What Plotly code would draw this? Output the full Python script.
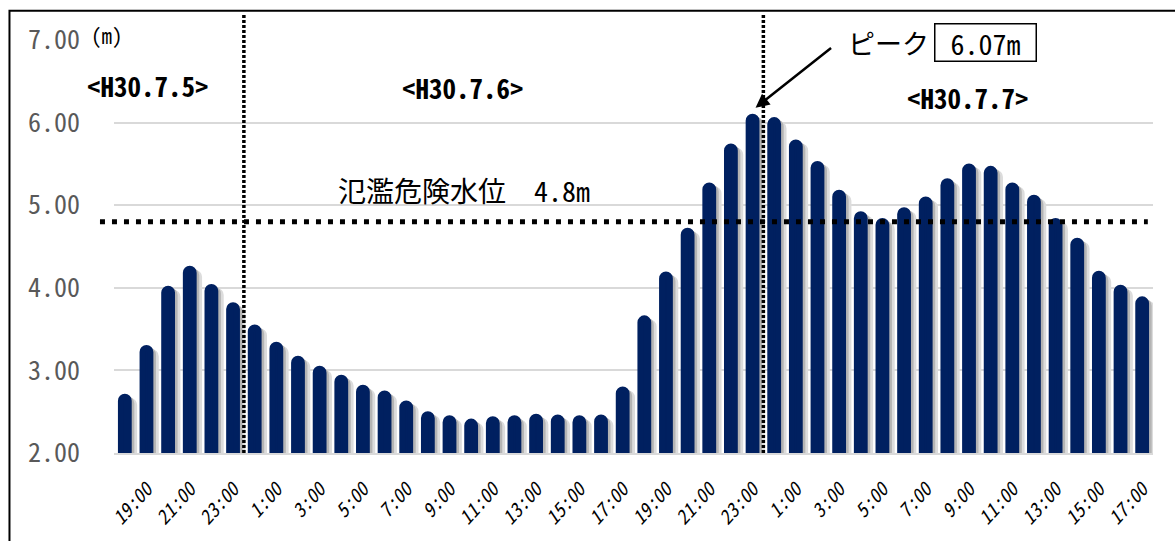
import numpy as np
import pandas as pd
import plotly.graph_objects as go

# Hourly water level (m), 2018-07-05 18:00 to 2018-07-07 17:00
times = pd.date_range("2018-07-05 18:00", periods=48, freq="h")
categories = [t.strftime("%m/%d %H:%M") for t in times]
levels = [
    2.68, 3.27, 3.99, 4.23, 4.01, 3.79,                     # 7/5 18:00-23:00
    3.52, 3.31, 3.14, 3.02, 2.91, 2.79, 2.72, 2.60,         # 7/6 0:00-7:00
    2.47, 2.42, 2.38, 2.41, 2.42, 2.44, 2.43, 2.42,         # 7/6 8:00-15:00
    2.43, 2.77, 3.63, 4.16, 4.69, 5.24, 5.71, 6.07,         # 7/6 16:00-23:00
    6.03, 5.76, 5.50, 5.15, 4.89, 4.81, 4.94, 5.07,         # 7/7 0:00-7:00
    5.29, 5.47, 5.44, 5.24, 5.09, 4.81, 4.57, 4.17,         # 7/7 8:00-15:00
    4.00, 3.86,                                             # 7/7 16:00-17:00
]
tick_values = categories[1::2]
tick_text = ["19:00", "21:00", "23:00",
             "1:00", "3:00", "5:00", "7:00", "9:00", "11:00", "13:00", "15:00",
             "17:00", "19:00", "21:00", "23:00",
             "1:00", "3:00", "5:00", "7:00", "9:00", "11:00", "13:00", "15:00", "17:00"]
day_labels = ["<H30.7.5>", "<H30.7.6>", "<H30.7.7>"]
danger_level = 4.8
peak_value = 6.07
peak_index = int(np.argmax(levels))
day_boundaries = [5.5, 29.5]

NAVY = "#002060"
MONO = "Noto Sans Mono CJK JP, Noto Sans CJK JP, sans-serif"
CJK = "Noto Sans CJK JP, sans-serif"

bar_w = 0.36
lv = np.array(levels)

fig = go.Figure()
# soft drop shadow behind each bar
fig.add_trace(go.Bar(
    x=categories, y=lv - 0.05, width=bar_w, offset=-bar_w / 2 + 0.25,
    marker=dict(color="#dcdcdc", line=dict(color="#dcdcdc", width=6), cornerradius="50%"),
    hoverinfo="skip"))
fig.add_trace(go.Bar(
    x=categories, y=lv - 0.03, width=bar_w, offset=-bar_w / 2 + 0.12,
    marker=dict(color="#b4b4b4", line=dict(color="#b4b4b4", width=6), cornerradius="50%"),
    hoverinfo="skip"))
# water level bars
fig.add_trace(go.Bar(
    x=categories, y=lv, width=bar_w, offset=-bar_w / 2,
    marker=dict(color=NAVY, line=dict(color=NAVY, width=6), cornerradius="50%"),
    name="水位"))

shapes = [
    # outer frame
    dict(type="rect", xref="paper", yref="paper", x0=-0.1006, x1=1.2, y0=-0.4, y1=1.0707,
         line=dict(color="black", width=2), fillcolor="rgba(0,0,0,0)", layer="below"),
    # flood danger level
    dict(type="line", xref="paper", yref="y", x0=-0.0135, x1=0.995, y0=danger_level, y1=danger_level,
         line=dict(color="black", width=5, dash="5px,7px")),
]
for xb in day_boundaries:
    shapes.append(dict(type="line", xref="x", yref="paper", x0=xb, x1=xb, y0=0, y1=1.065,
                       line=dict(color="black", width=3.5, dash="3px,2px")))


def label(text, x, y, size, family=MONO, bold=False, **kw):
    font = dict(family=family, size=size, color="black")
    if bold:
        font["weight"] = "bold"
    return dict(text=text, xref="paper", yref="paper", x=x, y=y, showarrow=False,
                xanchor="center", yanchor="middle", font=font, **kw)


annotations = [
    label("(m)", -0.0067, 1.012, 21),
    label(day_labels[0], 0.0327, 0.8897, 27, bold=True),
    label(day_labels[1], 0.3359, 0.8849, 27, bold=True),
    label(day_labels[2], 0.8219, 0.8609, 27, bold=True),
    label(f"氾濫危険水位　{danger_level}m", 0.3369, 0.6379, 28),
    label("ピーク", 0.7459, 0.9928, 27, family=CJK),
    label(f"{peak_value:.2f}m", 0.8388, 0.9928, 28, width=98, height=34, borderpad=1,
          bordercolor="black", borderwidth=1.5, bgcolor="white"),
    dict(text="", x=categories[peak_index], y=peak_value + 0.11, xref="x", yref="y",
         xshift=3, ax=77, ay=-61, showarrow=True, arrowhead=2, arrowsize=1.1,
         arrowwidth=2.5, arrowcolor="black", standoff=0),
]

fig.update_layout(
    width=1175, height=541,
    margin=dict(l=114, r=22, t=40, b=84),
    plot_bgcolor="white", paper_bgcolor="white",
    barmode="overlay", showlegend=False,
    shapes=shapes, annotations=annotations,
    xaxis=dict(
        type="category", categoryorder="array", categoryarray=categories,
        range=[-0.5, 47.5], tickmode="array", tickvals=tick_values, ticktext=tick_text,
        tickangle=-48, ticks="", ticklabelstandoff=16,
        tickfont=dict(family=MONO, size=19, color="black", style="italic"),
        showline=True, linecolor="#d9d9d9", linewidth=2, showgrid=False, zeroline=False,
    ),
    yaxis=dict(
        range=[2, 7], dtick=1, tick0=2, tickformat=".2f", ticks="", ticklabelstandoff=33,
        tickfont=dict(family=MONO, size=26, color="#595959"),
        showgrid=True, gridcolor="#d9d9d9", gridwidth=1.5, zeroline=False, showline=False,
    ),
)

fig.write_html("out.html")
